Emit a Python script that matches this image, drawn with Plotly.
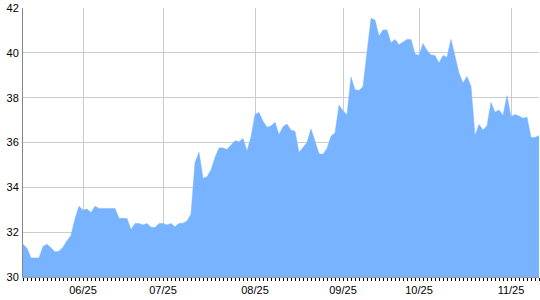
import plotly.graph_objects as go

values = [
    31.46, 31.28, 30.85, 30.86, 30.85, 31.36, 31.46, 31.30, 31.12, 31.15,
    31.33, 31.62, 31.85, 32.60, 33.16, 32.98, 33.03, 32.88, 33.16, 33.06,
    33.06, 33.06, 33.06, 33.06, 32.62, 32.61, 32.61, 32.12, 32.39, 32.39,
    32.32, 32.39, 32.22, 32.21, 32.39, 32.39, 32.32, 32.39, 32.24, 32.39,
    32.40, 32.50, 32.80, 35.10, 35.56, 34.40, 34.47, 34.77, 35.33, 35.76,
    35.76, 35.69, 35.90, 36.08, 36.03, 36.18, 35.62, 36.25, 37.25, 37.34,
    36.95, 36.68, 36.74, 36.90, 36.35, 36.70, 36.82, 36.55, 36.50, 35.55,
    35.78, 36.00, 36.60, 36.07, 35.50, 35.48, 35.73, 36.28, 36.42, 37.66,
    37.42, 37.24, 38.92, 38.35, 38.32, 38.50, 39.95, 41.54, 41.46, 40.75,
    41.02, 41.02, 40.45, 40.60, 40.36, 40.50, 40.60, 40.60, 39.95, 39.88,
    40.42, 40.10, 39.90, 39.88, 39.55, 39.88, 39.80, 40.60, 39.80, 39.10,
    38.65, 38.94, 38.50, 36.30, 36.80, 36.56, 36.75, 37.78, 37.35, 37.45,
    37.20, 38.09, 37.15, 37.25, 37.18, 37.08, 37.13, 36.22, 36.22, 36.31,
]
x_index = list(range(len(values)))

tick_index = [15, 35, 58, 80, 99, 122]
tick_labels = ["06/25", "07/25", "08/25", "09/25", "10/25", "11/25"]
y_ticks = [30, 32, 34, 36, 38, 40, 42]

fig = go.Figure()
fig.add_trace(go.Scatter(
    x=x_index, y=values, mode="lines", fill="tozeroy",
    line=dict(color="#77b3ff", width=0.5),
    fillcolor="#77b3ff", hoverinfo="skip", showlegend=False,
))

fig.update_layout(
    width=540, height=300,
    margin=dict(l=23, r=1, t=8, b=23),
    paper_bgcolor="white", plot_bgcolor="white",
    font=dict(family="Liberation Sans, Arial, sans-serif", size=11, color="#000"),
    xaxis=dict(
        range=[0, len(values) - 1],
        tickmode="array", tickvals=tick_index, ticktext=tick_labels,
        showgrid=True, gridcolor="#cccccc", gridwidth=1,
        ticks="outside", ticklen=3, tickcolor="#000", tickwidth=1,
        minor=dict(dtick=1, ticks="outside", ticklen=3, tickcolor="#000", tickwidth=1, showgrid=False),
        showline=True, linecolor="#999999", linewidth=1,
        zeroline=False, fixedrange=True,
    ),
    yaxis=dict(
        range=[30, 42],
        tickmode="array", tickvals=y_ticks,
        showgrid=True, gridcolor="#cccccc", gridwidth=1,
        ticks="", ticklabelstandoff=1,
        showline=True, linecolor="#888888", linewidth=1,
        zeroline=False, fixedrange=True,
    ),
)

fig.write_html("out.html", config={"displayModeBar": False})
